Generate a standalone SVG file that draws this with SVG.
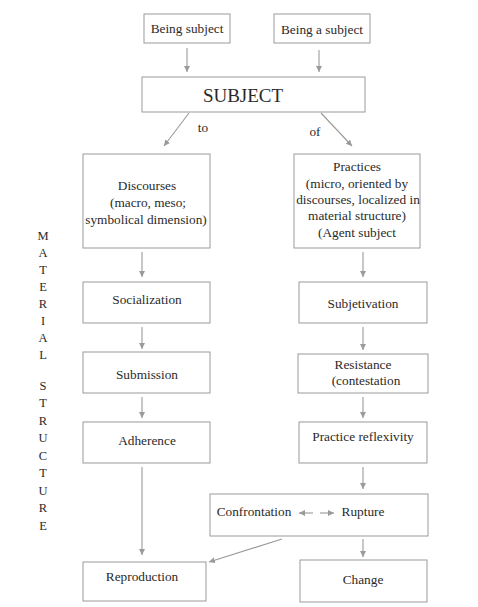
<svg xmlns="http://www.w3.org/2000/svg" width="478" height="607" viewBox="0 0 478 607">
<style>
.box{fill:#fff;stroke:#9a9a9a;stroke-width:1}
.t{font-family:"Liberation Serif","DejaVu Serif",serif;font-size:13.3px;fill:#2a2a2a;text-anchor:middle}
.c{stroke:#9a9a9a;stroke-width:1.1;fill:none;marker-end:url(#ah)}
.v{font-family:"Liberation Serif","DejaVu Serif",serif;font-size:12.5px;fill:#2a2a2a;text-anchor:middle}
</style>
<defs>
<marker id="ah" markerWidth="8" markerHeight="8" refX="6" refY="3" orient="auto" markerUnits="userSpaceOnUse">
<path d="M0,0 L6,3 L0,6 Z" fill="#9a9a9a"/>
</marker>
</defs>
<rect width="478" height="607" fill="#fff"/>
<g id="being-subject"><rect class="box" x="144" y="14" width="86" height="29"/><text class="t" x="187" y="33">Being subject</text></g>
<g id="being-a-subject"><rect class="box" x="274" y="14" width="96" height="29"/><text class="t" x="322" y="34">Being  a subject</text></g>
<g id="subject"><rect class="box" x="142" y="77" width="223" height="35"/><text class="t" x="243" y="102" style="font-size:19px">SUBJECT</text></g>
<g id="discourses"><rect class="box" x="83" y="154" width="127" height="94"/>
<text class="t" x="147" y="190">Discourses</text><text class="t" x="148" y="207">(macro, meso;</text><text class="t" x="146" y="224">symbolical dimension)</text></g>
<g id="practices"><rect class="box" x="294" y="154" width="126" height="94"/>
<text class="t" x="357" y="171">Practices</text><text class="t" x="357" y="188">(micro, oriented by</text><text class="t" x="358" y="204">discourses, localized in</text><text class="t" x="357" y="220">material structure)</text><text class="t" x="357" y="237">(Agent subject</text></g>
<g id="socialization"><rect class="box" x="83" y="282" width="127" height="41"/><text class="t" x="147" y="304">Socialization</text></g>
<g id="submission"><rect class="box" x="83" y="352" width="127" height="41"/><text class="t" x="147" y="379">Submission</text></g>
<g id="adherence"><rect class="box" x="83" y="422" width="127" height="41"/><text class="t" x="147" y="445">Adherence</text></g>
<g id="subjetivation"><rect class="box" x="299" y="282" width="128" height="41"/><text class="t" x="363" y="308">Subjetivation</text></g>
<g id="resistance"><rect class="box" x="298" y="354" width="130" height="39"/><text class="t" x="363" y="369">Resistance</text><text class="t" x="366" y="385">(contestation</text></g>
<g id="practice-reflexivity"><rect class="box" x="299" y="422" width="128" height="41"/><text class="t" x="363" y="441">Practice reflexivity</text></g>
<g id="confrontation-rupture"><rect class="box" x="210" y="494" width="218" height="42"/>
<text class="t" x="254" y="516">Confrontation</text><text class="t" x="363" y="516">Rupture</text></g>
<g id="reproduction"><rect class="box" x="83" y="562" width="123" height="39"/><text class="t" x="142" y="581">Reproduction</text></g>
<g id="change"><rect class="box" x="300" y="560" width="127" height="42"/><text class="t" x="363" y="584">Change</text></g>
<g id="material-structure">
<text class="v" x="43" y="240">M</text><text class="v" x="43" y="257">A</text><text class="v" x="43" y="274">T</text><text class="v" x="43" y="291">E</text><text class="v" x="43" y="308">R</text><text class="v" x="43" y="325">I</text><text class="v" x="43" y="342">A</text><text class="v" x="43" y="359">L</text>
<text class="v" x="43" y="390">S</text><text class="v" x="43" y="407">T</text><text class="v" x="43" y="425">R</text><text class="v" x="43" y="442">U</text><text class="v" x="43" y="460">C</text><text class="v" x="43" y="477">T</text><text class="v" x="43" y="495">U</text><text class="v" x="43" y="512">R</text><text class="v" x="43" y="530">E</text>
</g>
<g id="connectors">
<line class="c" x1="187" y1="48" x2="187" y2="72"/>
<line class="c" x1="319" y1="50" x2="319" y2="72"/>
<line class="c" x1="189" y1="113" x2="164" y2="146"/>
<line class="c" x1="321" y1="113" x2="352" y2="146"/>
<text class="t" x="203" y="132">to</text>
<text class="t" x="315" y="136">of</text>
<line class="c" x1="142" y1="252" x2="142" y2="277"/>
<line class="c" x1="142" y1="327" x2="142" y2="349"/>
<line class="c" x1="142" y1="397" x2="142" y2="418"/>
<line class="c" x1="142" y1="467" x2="142" y2="555"/>
<line class="c" x1="363" y1="252" x2="363" y2="277"/>
<line class="c" x1="363" y1="327" x2="363" y2="350"/>
<line class="c" x1="363" y1="397" x2="363" y2="418"/>
<line class="c" x1="363" y1="467" x2="363" y2="489"/>
<line class="c" x1="282" y1="539" x2="209" y2="562"/>
<line class="c" x1="363" y1="539" x2="363" y2="557"/>
<line class="c" x1="313" y1="513" x2="299" y2="513"/>
<line class="c" x1="320" y1="513" x2="334" y2="513"/>
</g>
</svg>
